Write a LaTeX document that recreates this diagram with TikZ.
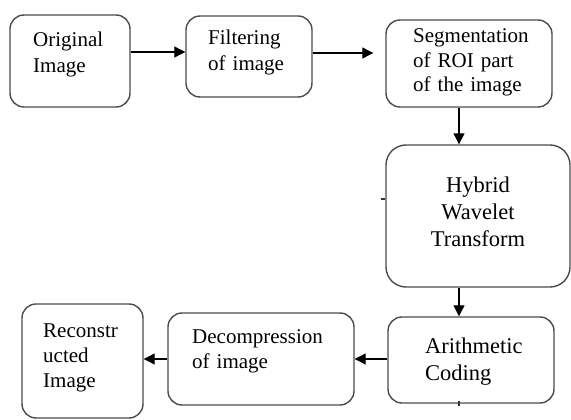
\documentclass[tikz,border=0pt]{standalone}
\usepackage{fontspec}
\setmainfont{Liberation Serif}
\usetikzlibrary{arrows.meta}

\tikzset{
  stage/.style={draw=black!70, line width=1.4pt, rectangle, rounded corners=14pt,
    inner sep=0pt, fill=white},
  label/.style={inner sep=0pt, anchor=base west, text width=170pt, align=left,
    font=\fontsize{21}{25.5}\selectfont},
  biglabel/.style={inner sep=0pt, text width=170pt,
    font=\fontsize{22.5}{27}\selectfont},
  flow/.style={line width=1.1pt, -{Triangle[length=11pt,width=11pt]}},
  tick/.style={line width=1.2pt, black!80}
}

\begin{document}
\begin{tikzpicture}[x=1pt, y=-1pt]
  \useasboundingbox (0,0) rectangle (571,420);

  % process stages
  \node[stage, minimum width=120pt, minimum height=92pt]  (b1) at (70,61) {};
  \node[stage, minimum width=126pt, minimum height=81pt]  (b2) at (249,56.5) {};
  \node[stage, minimum width=166pt, minimum height=87pt]  (b3) at (469,63.5) {};
  \node[stage, minimum width=184pt, minimum height=142pt, rounded corners=20pt] (b4) at (478,216) {};
  \node[stage, minimum width=166pt, minimum height=86pt]  (b5) at (471,360) {};
  \node[stage, minimum width=186pt, minimum height=92pt]  (b6) at (261,359) {};
  \node[stage, minimum width=121pt, minimum height=114pt] (b7) at (82.5,361) {};

  % stage texts
  \node[label] (t1) at (33,47) {Original\\Image};
  \node[label] (t2) at (208,45) {Filtering\\of image};
  \node[label, font=\fontsize{21}{24.5}\selectfont] (t3) at (413,43) {Segmentation\\of ROI part\\of the image};
  \node[biglabel, anchor=base, align=center] (t4) at (478,193) {Hybrid\\Wavelet\\Transform};
  \node[biglabel, anchor=base west, align=left] (t5) at (425,353) {Arithmetic\\Coding};
  \node[label, font=\fontsize{21}{25}\selectfont] (t6) at (192,343) {Decompression\\of image};
  \node[label, font=\fontsize{21}{25}\selectfont] (t7) at (43,337) {Reconstr\\ucted\\Image};

  % connectors
  \draw[flow] ([yshift=9pt]b1.east) -- ([yshift=4.5pt]b2.west);
  \draw[flow] ([yshift=3.5pt]b2.east) -- ([xshift=-12pt,yshift=10.5pt]b3.west);
  \draw[flow] ([xshift=-10pt]b3.south) -- ([xshift=-19pt]b4.north);
  \draw[flow] ([xshift=-19pt]b4.south) -- ([xshift=-12pt]b5.north);
  \draw[flow] ([yshift=1pt]b5.west) -- (b6.east);
  \draw[flow] (b6.west) -- ([yshift=2pt]b7.east);

  % small stray marks on the box outlines
  \draw[tick] ([xshift=-4pt,yshift=17pt]b4.west) -- ([yshift=17pt]b4.west);
  \draw[tick] ([xshift=-12pt,yshift=3pt]b5.south) -- ([xshift=-12pt,yshift=-2pt]b5.south);
\end{tikzpicture}
\end{document}
